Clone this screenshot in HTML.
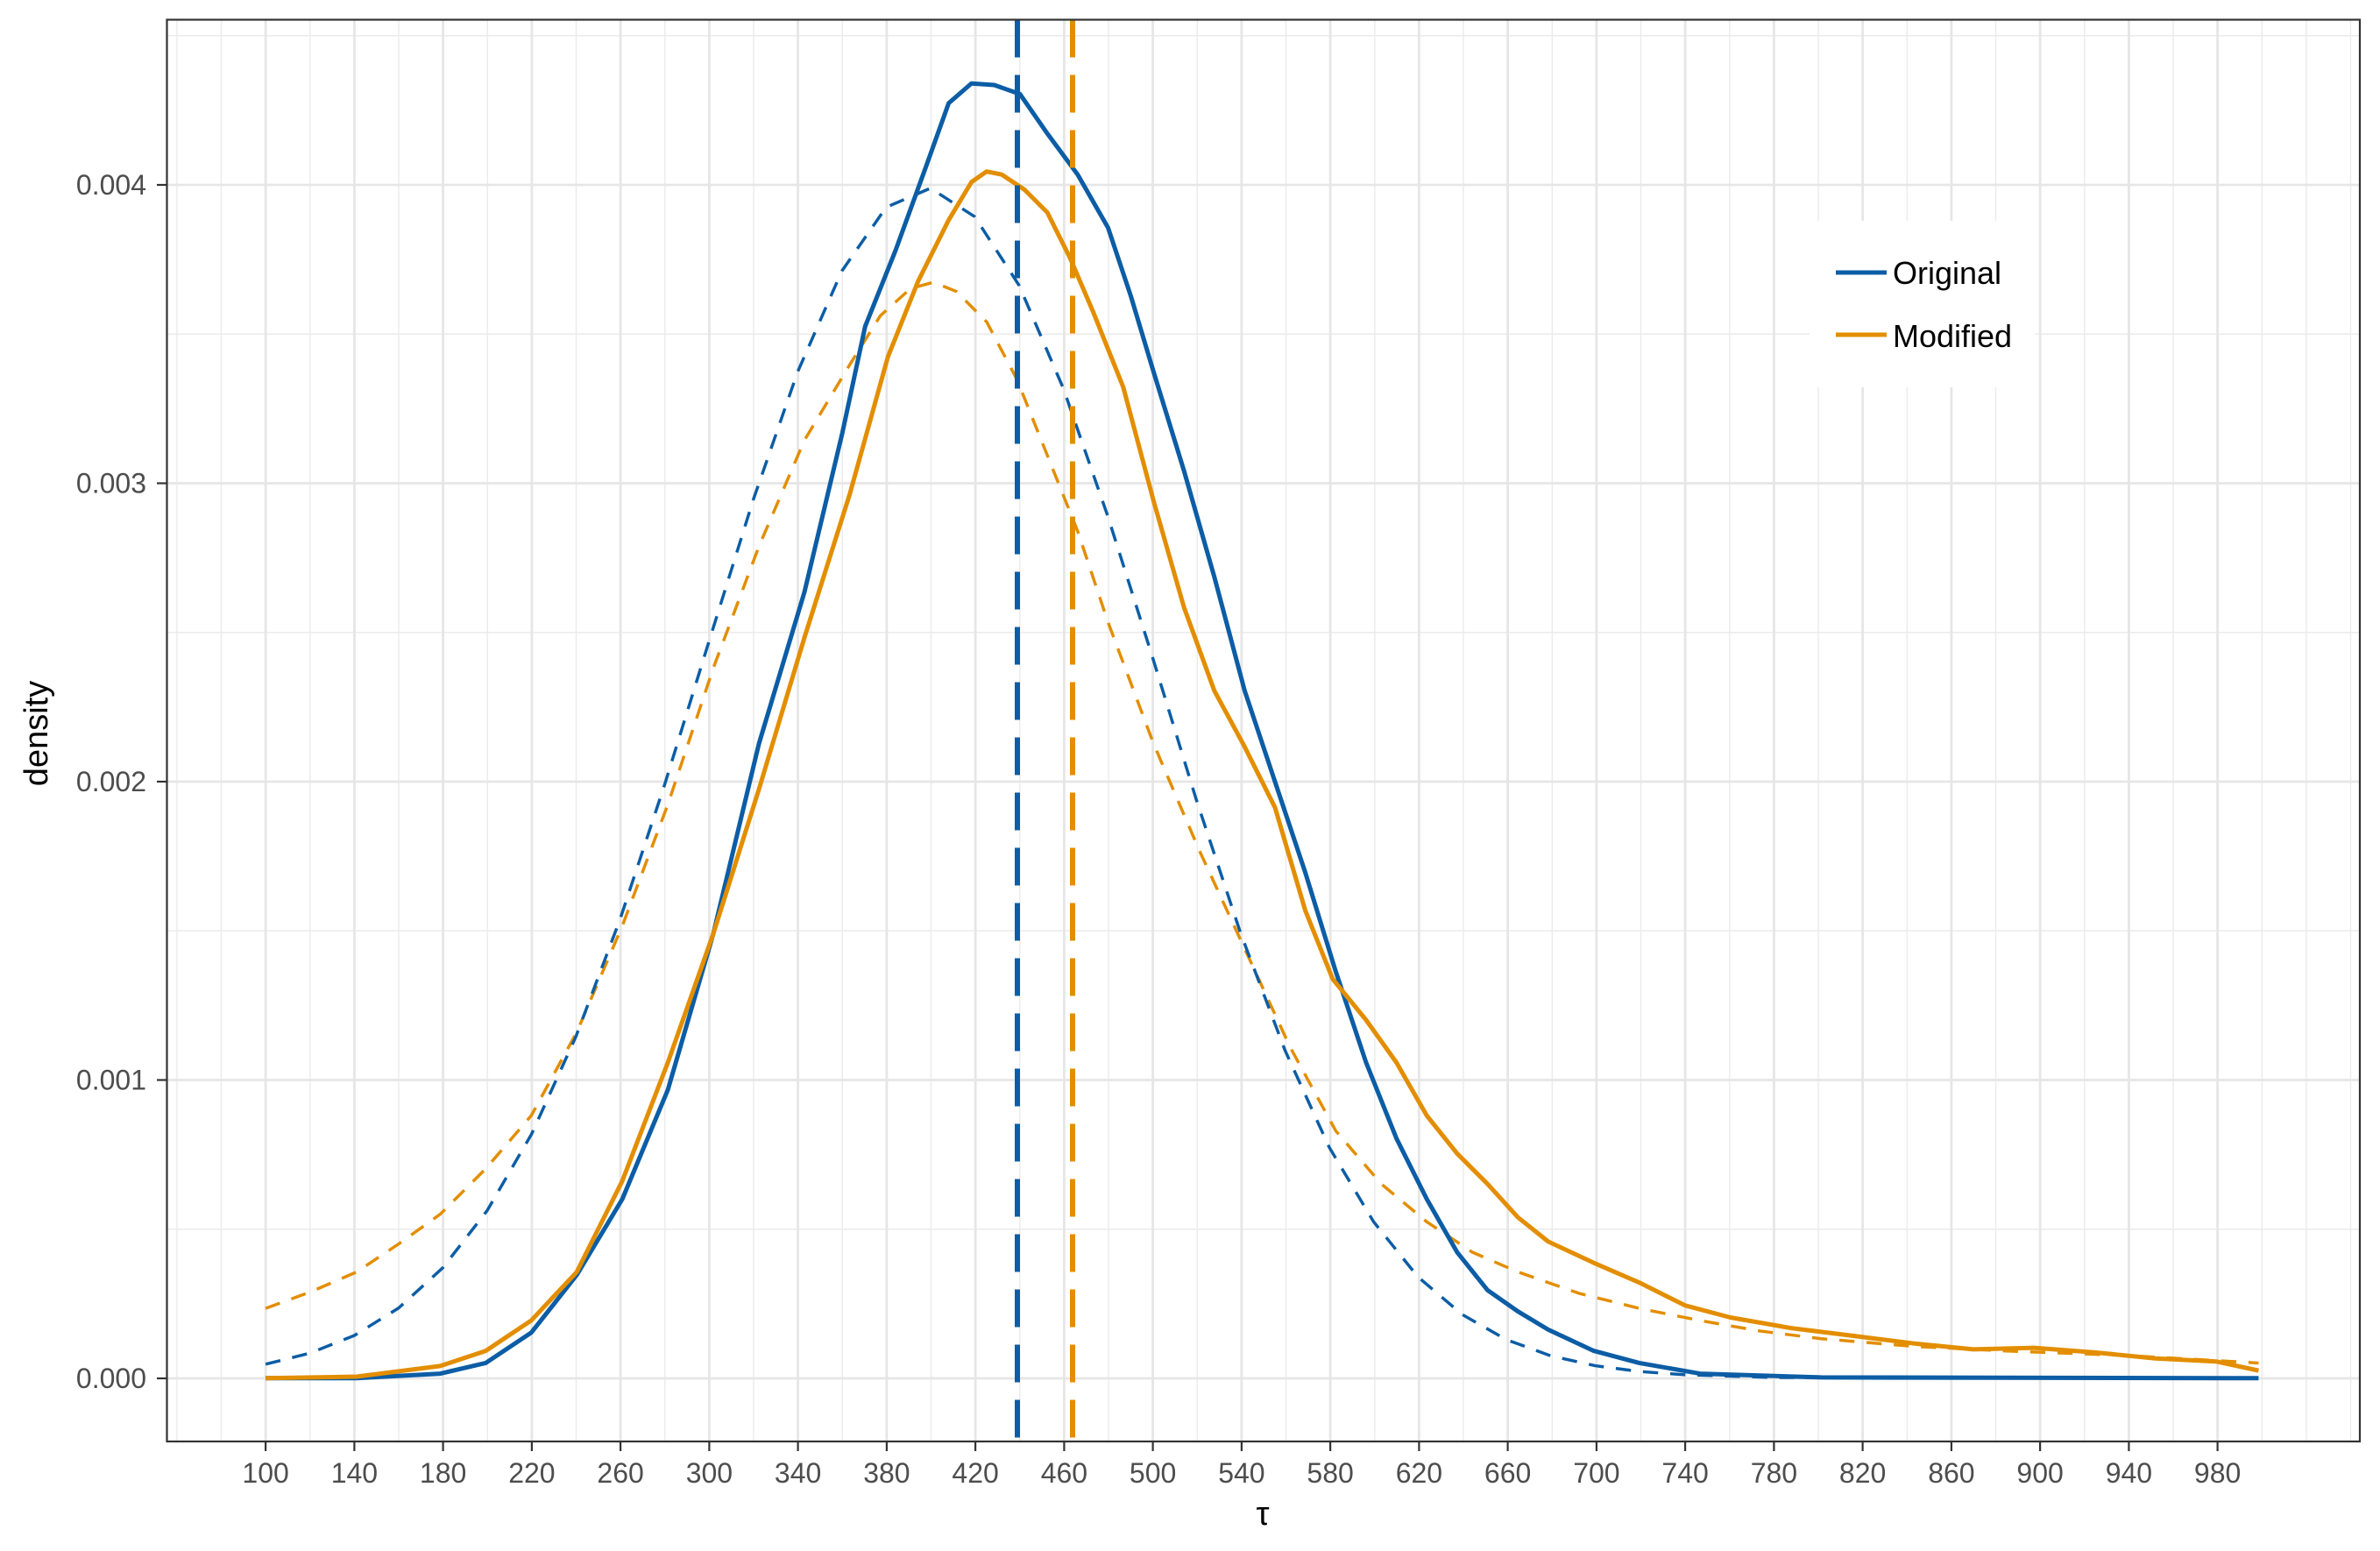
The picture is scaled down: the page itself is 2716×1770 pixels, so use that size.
<!DOCTYPE html>
<html><head><meta charset="utf-8"><style>
html,body{margin:0;padding:0;background:#fff}
svg{display:block}
text{font-family:"Liberation Sans",Arial,sans-serif}
</style></head><body>
<svg width="2716" height="1770" viewBox="0 0 2716 1770" xmlns="http://www.w3.org/2000/svg">
<rect width="2716" height="1770" fill="#fff"/>
<g stroke="#ebebeb" stroke-width="1.4">
<line x1="201.9" y1="22.5" x2="201.9" y2="1645"/><line x1="252.5" y1="22.5" x2="252.5" y2="1645"/>
<line x1="353.8" y1="22.5" x2="353.8" y2="1645"/><line x1="455" y1="22.5" x2="455" y2="1645"/>
<line x1="556.3" y1="22.5" x2="556.3" y2="1645"/><line x1="657.5" y1="22.5" x2="657.5" y2="1645"/>
<line x1="758.8" y1="22.5" x2="758.8" y2="1645"/><line x1="860" y1="22.5" x2="860" y2="1645"/>
<line x1="961.3" y1="22.5" x2="961.3" y2="1645"/><line x1="1062.5" y1="22.5" x2="1062.5" y2="1645"/>
<line x1="1163.8" y1="22.5" x2="1163.8" y2="1645"/><line x1="1265" y1="22.5" x2="1265" y2="1645"/>
<line x1="1366.3" y1="22.5" x2="1366.3" y2="1645"/><line x1="1467.5" y1="22.5" x2="1467.5" y2="1645"/>
<line x1="1568.8" y1="22.5" x2="1568.8" y2="1645"/><line x1="1670" y1="22.5" x2="1670" y2="1645"/>
<line x1="1771.3" y1="22.5" x2="1771.3" y2="1645"/><line x1="1872.5" y1="22.5" x2="1872.5" y2="1645"/>
<line x1="1973.8" y1="22.5" x2="1973.8" y2="1645"/><line x1="2075" y1="22.5" x2="2075" y2="1645"/>
<line x1="2176.3" y1="22.5" x2="2176.3" y2="1645"/><line x1="2277.5" y1="22.5" x2="2277.5" y2="1645"/>
<line x1="2378.8" y1="22.5" x2="2378.8" y2="1645"/><line x1="2480" y1="22.5" x2="2480" y2="1645"/>
<line x1="2581.3" y1="22.5" x2="2581.3" y2="1645"/><line x1="2631.9" y1="22.5" x2="2631.9" y2="1645"/>
<line x1="2682.5" y1="22.5" x2="2682.5" y2="1645"/>
<line x1="190.5" y1="1402.75" x2="2693" y2="1402.75"/><line x1="190.5" y1="1062.25" x2="2693" y2="1062.25"/>
<line x1="190.5" y1="721.75" x2="2693" y2="721.75"/><line x1="190.5" y1="381.25" x2="2693" y2="381.25"/>
<line x1="190.5" y1="40.75" x2="2693" y2="40.75"/>
</g>
<g stroke="#e6e6e6" stroke-width="2.8">
<line x1="303.1" y1="22.5" x2="303.1" y2="1645"/><line x1="404.4" y1="22.5" x2="404.4" y2="1645"/>
<line x1="505.6" y1="22.5" x2="505.6" y2="1645"/><line x1="606.9" y1="22.5" x2="606.9" y2="1645"/>
<line x1="708.1" y1="22.5" x2="708.1" y2="1645"/><line x1="809.4" y1="22.5" x2="809.4" y2="1645"/>
<line x1="910.6" y1="22.5" x2="910.6" y2="1645"/><line x1="1011.9" y1="22.5" x2="1011.9" y2="1645"/>
<line x1="1113.1" y1="22.5" x2="1113.1" y2="1645"/><line x1="1214.4" y1="22.5" x2="1214.4" y2="1645"/>
<line x1="1315.6" y1="22.5" x2="1315.6" y2="1645"/><line x1="1416.9" y1="22.5" x2="1416.9" y2="1645"/>
<line x1="1518.1" y1="22.5" x2="1518.1" y2="1645"/><line x1="1619.4" y1="22.5" x2="1619.4" y2="1645"/>
<line x1="1720.6" y1="22.5" x2="1720.6" y2="1645"/><line x1="1821.9" y1="22.5" x2="1821.9" y2="1645"/>
<line x1="1923.1" y1="22.5" x2="1923.1" y2="1645"/><line x1="2024.4" y1="22.5" x2="2024.4" y2="1645"/>
<line x1="2125.6" y1="22.5" x2="2125.6" y2="1645"/><line x1="2226.9" y1="22.5" x2="2226.9" y2="1645"/>
<line x1="2328.1" y1="22.5" x2="2328.1" y2="1645"/><line x1="2429.4" y1="22.5" x2="2429.4" y2="1645"/>
<line x1="2530.6" y1="22.5" x2="2530.6" y2="1645"/>
<line x1="190.5" y1="1573" x2="2693" y2="1573"/><line x1="190.5" y1="1232.5" x2="2693" y2="1232.5"/>
<line x1="190.5" y1="892" x2="2693" y2="892"/><line x1="190.5" y1="551.5" x2="2693" y2="551.5"/>
<line x1="190.5" y1="211" x2="2693" y2="211"/>
</g>
<g transform="scale(1.73214)" fill="none" stroke-linejoin="round" stroke-linecap="butt">
<polyline stroke="#e38e00" stroke-width="2" stroke-dasharray="10,8" points="175,862 205,851 235,838 262,820 290,800 320,770 350,735 380,680 410,610 440,530 470,440 500,360 530,290 560,240 580,208 600,190 615,186 630,192 650,212 670,250 690,300 710,350 730,410 760,490 790,560 820,625 850,690 880,745 910,780 940,805 970,825 1000,838 1040,852 1080,862 1120,870 1160,877 1200,882 1260,887 1320,890 1400,893 1488,898"/>
<polyline stroke="#0c5da5" stroke-width="2" stroke-dasharray="10,8" points="175,898.8 204.2,891.5 233.4,879.9 262.6,861.8 291.8,835.2 321,797.5 350.2,747.2 379.4,683 408.6,605.4 437.8,517.2 467,422.9 496.2,329.5 525.4,245.3 554.6,178.6 583.8,136.6 613,124 642.2,142.8 671.4,188 700.6,256 729.8,340 759,432 788.2,527 817.4,615 846.6,692 875.8,756 905,805 934.2,841.3 963.4,866.1 992.6,882.7 1021.8,893.3 1051,899.8 1080.2,903.6 1109.4,905.7 1167.8,907.5 1250,908"/>
<polyline stroke="#0c5da5" stroke-width="2.9" points="175,908 235,908 290,905 320,898 350,878 380,840 410,790 440,718 470,615 500,490 530,390 555,285 570,215 590,165 610,110 625,68 640,55 655,56 672,62 690,88 710,115 730,150 745,195 760,245 780,310 800,380 820,455 840,515 860,575 880,640 900,700 920,750 940,790 960,825 980,850 1000,864 1020,876 1050,890 1080,898 1120,905 1200,907.5 1488,908"/>
<polyline stroke="#e38e00" stroke-width="2.9" points="175,908 235,907 290,900 320,890 350,870 380,838 410,778 440,700 470,615 500,520 530,420 560,325 585,235 605,185 625,145 640,120 650,113 660,115 675,125 690,140 705,170 720,205 740,255 760,330 780,400 800,455 820,492 840,532 860,600 878,645 900,672 920,700 940,735 960,760 980,780 1000,802 1020,818 1050,832 1080,845 1110,860 1140,868 1180,875 1220,880 1260,885 1300,889 1340,888 1380,891 1420,895 1460,897 1488,903"/>
</g>
<line x1="1161" y1="22.5" x2="1161" y2="1645" stroke="#0c5da5" stroke-width="6" stroke-dasharray="43,20"/>
<line x1="1224" y1="22.5" x2="1224" y2="1645" stroke="#e38e00" stroke-width="6" stroke-dasharray="43,20"/>
<rect x="2065" y="252" width="257" height="190" fill="#fff"/>
<line x1="2095" y1="311" x2="2153" y2="311" stroke="#0c5da5" stroke-width="5"/>
<line x1="2095" y1="382" x2="2153" y2="382" stroke="#e38e00" stroke-width="5"/>
<text x="2160" y="324" font-size="36" fill="#000">Original</text>
<text x="2160" y="396" font-size="36" fill="#000">Modified</text>
<rect x="190.5" y="22.5" width="2502.5" height="1622.5" fill="none" stroke="#333" stroke-width="2.2"/>
<g stroke="#333" stroke-width="2.2">
<line x1="179" y1="1573" x2="190.5" y2="1573"/><line x1="179" y1="1232.5" x2="190.5" y2="1232.5"/>
<line x1="179" y1="892" x2="190.5" y2="892"/><line x1="179" y1="551.5" x2="190.5" y2="551.5"/>
<line x1="179" y1="211" x2="190.5" y2="211"/>
<line x1="303.1" y1="1645" x2="303.1" y2="1656"/><line x1="404.4" y1="1645" x2="404.4" y2="1656"/>
<line x1="505.6" y1="1645" x2="505.6" y2="1656"/><line x1="606.9" y1="1645" x2="606.9" y2="1656"/>
<line x1="708.1" y1="1645" x2="708.1" y2="1656"/><line x1="809.4" y1="1645" x2="809.4" y2="1656"/>
<line x1="910.6" y1="1645" x2="910.6" y2="1656"/><line x1="1011.9" y1="1645" x2="1011.9" y2="1656"/>
<line x1="1113.1" y1="1645" x2="1113.1" y2="1656"/><line x1="1214.4" y1="1645" x2="1214.4" y2="1656"/>
<line x1="1315.6" y1="1645" x2="1315.6" y2="1656"/><line x1="1416.9" y1="1645" x2="1416.9" y2="1656"/>
<line x1="1518.1" y1="1645" x2="1518.1" y2="1656"/><line x1="1619.4" y1="1645" x2="1619.4" y2="1656"/>
<line x1="1720.6" y1="1645" x2="1720.6" y2="1656"/><line x1="1821.9" y1="1645" x2="1821.9" y2="1656"/>
<line x1="1923.1" y1="1645" x2="1923.1" y2="1656"/><line x1="2024.4" y1="1645" x2="2024.4" y2="1656"/>
<line x1="2125.6" y1="1645" x2="2125.6" y2="1656"/><line x1="2226.9" y1="1645" x2="2226.9" y2="1656"/>
<line x1="2328.1" y1="1645" x2="2328.1" y2="1656"/><line x1="2429.4" y1="1645" x2="2429.4" y2="1656"/>
<line x1="2530.6" y1="1645" x2="2530.6" y2="1656"/>
</g>
<g font-size="32" fill="#4d4d4d" text-anchor="end">
<text x="167" y="1584">0.000</text><text x="167" y="1243.5">0.001</text>
<text x="167" y="903">0.002</text><text x="167" y="562.5">0.003</text>
<text x="167" y="222">0.004</text>
</g>
<g font-size="32" fill="#4d4d4d" text-anchor="middle">
<text x="303.1" y="1692">100</text><text x="404.4" y="1692">140</text><text x="505.6" y="1692">180</text>
<text x="606.9" y="1692">220</text><text x="708.1" y="1692">260</text><text x="809.4" y="1692">300</text>
<text x="910.6" y="1692">340</text><text x="1011.9" y="1692">380</text><text x="1113.1" y="1692">420</text>
<text x="1214.4" y="1692">460</text><text x="1315.6" y="1692">500</text><text x="1416.9" y="1692">540</text>
<text x="1518.1" y="1692">580</text><text x="1619.4" y="1692">620</text><text x="1720.6" y="1692">660</text>
<text x="1821.9" y="1692">700</text><text x="1923.1" y="1692">740</text><text x="2024.4" y="1692">780</text>
<text x="2125.6" y="1692">820</text><text x="2226.9" y="1692">860</text><text x="2328.1" y="1692">900</text>
<text x="2429.4" y="1692">940</text><text x="2530.6" y="1692">980</text>
</g>
<text x="1441" y="1740" font-size="38" text-anchor="middle" fill="#000">τ</text>
<text transform="translate(54,837) rotate(-90)" font-size="38" text-anchor="middle" fill="#000">density</text>
</svg>
</body></html>
